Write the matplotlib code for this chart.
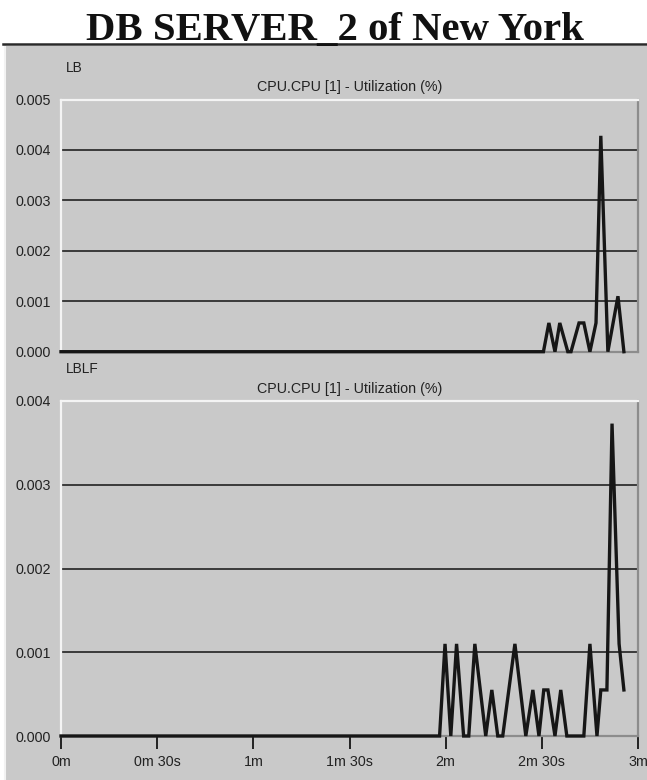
import matplotlib
matplotlib.use("Agg")
import matplotlib.pyplot as plt
from matplotlib.lines import Line2D
from matplotlib.patches import Rectangle
from matplotlib.ticker import FixedLocator, FixedFormatter

W, H, DPI = 647, 780, 100

# CPU utilisation samples: time in seconds, utilisation in %
lb_time = [0, 150.5, 152.2, 154.1, 155.6, 158.1, 159.1, 161.6, 163.1,
           165.0, 166.9, 168.4, 170.6, 173.75, 175.6]
lb_util = [0, 0, 0.00057, 0, 0.00057, 0, 0, 0.00057, 0.00057,
           0, 0.00057, 0.00428, 0, 0.0011, 0]

lblf_time = [0, 118.1, 119.8, 121.6, 123.4, 125.6, 127.2, 129.1, 132.5,
             134.4, 136.25, 137.8, 141.6, 145.0, 147.2, 149.1, 150.6,
             151.9, 154.1, 155.9, 157.8, 163.1, 165.0, 167.2, 168.4,
             170.3, 171.9, 174.1, 175.6]
lblf_util = [0, 0, 0.0011, 0, 0.0011, 0, 0, 0.0011, 0,
             0.00055, 0, 0, 0.0011, 0, 0.00055, 0, 0.00055,
             0.00055, 0, 0.00055, 0, 0, 0.0011, 0, 0.00055,
             0.00055, 0.00373, 0.0011, 0.00055]

x_ticks = [0, 30, 60, 90, 120, 150, 180]
x_labels = ["0m", "0m 30s", "1m", "1m 30s", "2m", "2m 30s", "3m"]
lb_yticks = [0.000, 0.001, 0.002, 0.003, 0.004, 0.005]
lblf_yticks = [0.000, 0.001, 0.002, 0.003, 0.004]

title = "DB SERVER_2 of New York"
metric = "CPU.CPU [1] - Utilization (%)"
panels = ["LB", "LBLF"]

BG = "#c9c9c9"
GRID = "#2e2e2e"
LINE = "#161616"
SANS = ["Liberation Sans", "DejaVu Sans"]
FS = 10.3

fig = plt.figure(figsize=(W / DPI, H / DPI), dpi=DPI, facecolor="white")


def fx(px):
    return px / W


def fy(py):
    return 1 - py / H


# grey report panel with bevelled edges
fig.patches.append(Rectangle((fx(5), 0), 1 - fx(5), fy(46), transform=fig.transFigure,
                             facecolor=BG, edgecolor="none", zorder=-5))
fig.add_artist(Line2D([fx(5), fx(5)], [0, fy(46)], color="#f2f2f2", lw=1.5,
                      transform=fig.transFigure, zorder=-4))
fig.add_artist(Line2D([fx(3), 1], [fy(44), fy(44)], color="#2a2a2a", lw=1.8,
                      transform=fig.transFigure, zorder=-4))

fig.text(0.517, fy(40), title, ha="center", va="baseline",
         family=["Liberation Serif", "DejaVu Serif"], weight="bold", fontsize=29.3,
         color="#111111")

left, right = 61, 638
specs = [
    (panels[0], lb_time, lb_util, lb_yticks, 99.5, 351.7),
    (panels[1], lblf_time, lblf_util, lblf_yticks, 401.0, 736.0),
]

for i, (name, t, v, yt, top, bottom) in enumerate(specs):
    ax = fig.add_axes([fx(left), fy(bottom), fx(right - left), (bottom - top) / H])
    ax.set_facecolor(BG)
    ax.set_xlim(0, 180)
    ax.set_ylim(yt[0], yt[-1])

    for g in yt[1:-1]:
        ax.axhline(g, color=GRID, lw=1.3, zorder=1)

    ax.plot(t, v, color=LINE, lw=2.4, solid_joinstyle="miter", zorder=3,
            clip_on=False)

    ax.yaxis.set_major_locator(FixedLocator(yt))
    ax.yaxis.set_major_formatter(FixedFormatter([f"{y:.3f}" for y in yt]))
    ax.tick_params(axis="y", length=0, pad=7, labelsize=FS, labelcolor="#222222")
    for lab in ax.get_yticklabels():
        lab.set_family(SANS)

    ax.spines["top"].set_color("#f4f4f4")
    ax.spines["left"].set_color("#f4f4f4")
    ax.spines["right"].set_color("#8c8c8c")
    ax.spines["bottom"].set_color("#8c8c8c")
    for s in ax.spines.values():
        s.set_linewidth(1.6)

    if i == 1:
        ax.xaxis.set_major_locator(FixedLocator(x_ticks))
        ax.xaxis.set_major_formatter(FixedFormatter(x_labels))
        ax.tick_params(axis="x", direction="out", length=9, width=1.4, color="#222222",
                       pad=5, labelsize=FS, labelcolor="#222222")
        for lab in ax.get_xticklabels():
            lab.set_family(SANS)
    else:
        ax.set_xticks([])

    ax.set_title(metric, fontsize=FS, family=SANS, color="#222222", pad=6)
    fig.text(fx(66), fy(top - 32), name, ha="left", va="center", fontsize=9.8,
             family=SANS, color="#222222")

fig.savefig("out.png", dpi=DPI, facecolor=fig.get_facecolor())
